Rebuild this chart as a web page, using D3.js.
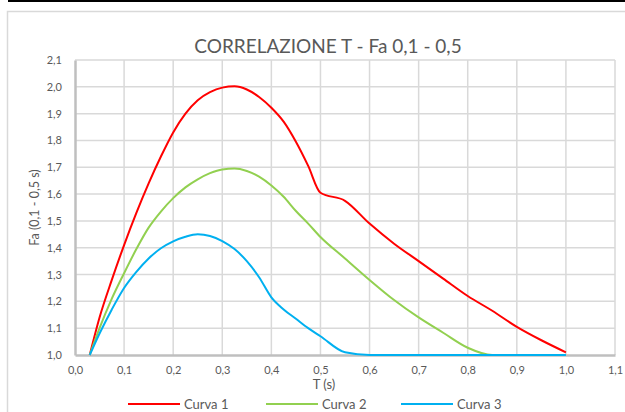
<!DOCTYPE html>
<meta charset="utf-8">
<title>Correlazione T - Fa</title>
<style>
body { margin: 0; background: #fff; }
text { font-family: Lato, "Open Sans", sans-serif; fill: #595959; }
</style>
<script src="https://d3js.org/d3.v7.min.js"></script>
<div id="chart"></div>
<script>

// periods (s) and the three curves
var tValues = [0.03, 0.05, 0.075, 0.10, 0.125, 0.15, 0.175, 0.20, 0.225, 0.25, 0.275, 0.30, 0.325, 0.35,
  0.375, 0.40, 0.425, 0.45, 0.475, 0.50, 0.55, 0.60, 0.65, 0.70, 0.75, 0.80, 0.85, 0.90, 0.95, 1.00];
var curva1 = [1.00, 1.14, 1.28, 1.41, 1.53, 1.64, 1.74, 1.83, 1.90, 1.95, 1.98, 1.997, 2.002, 1.99,
  1.962, 1.922, 1.87, 1.795, 1.705, 1.605, 1.575, 1.49, 1.415, 1.35, 1.285, 1.22, 1.165, 1.105, 1.055, 1.01];
var curva2 = [1.00, 1.10, 1.21, 1.305, 1.395, 1.475, 1.535, 1.585, 1.625, 1.655, 1.678, 1.692, 1.695, 1.686,
  1.665, 1.632, 1.59, 1.537, 1.49, 1.44, 1.36, 1.28, 1.205, 1.14, 1.083, 1.027, 1.00, 1.00, 1.00, 1.00];
var curva3 = [1.00, 1.08, 1.17, 1.25, 1.31, 1.36, 1.398, 1.424, 1.441, 1.45, 1.444, 1.425, 1.395, 1.35,
  1.29, 1.215, 1.17, 1.135, 1.10, 1.07, 1.01, 1.00, 1.00, 1.00, 1.00, 1.00, 1.00, 1.00, 1.00, 1.00];

var seriesNames = ["Curva 1", "Curva 2", "Curva 3"];
var seriesColors = ["#ff0000", "#92d050", "#00b0f0"];
var xTicks = [0, 0.1, 0.2, 0.3, 0.4, 0.5, 0.6, 0.7, 0.8, 0.9, 1.0, 1.1];
var yTicks = [1.0, 1.1, 1.2, 1.3, 1.4, 1.5, 1.6, 1.7, 1.8, 1.9, 2.0, 2.1];

var W = 625, H = 412;
var margin = {top: 60, right: 10, bottom: 57, left: 75};
var width = W - margin.left - margin.right,
    height = H - margin.top - margin.bottom;

var fmt = function(v) { return d3.format(".1f")(v).replace(".", ","); };

var svg = d3.select("#chart").append("svg")
  .attr("width", W)
  .attr("height", H);

// black rule at the top and the chart frame
svg.append("rect").attr("x", 8).attr("y", 0).attr("width", W - 8).attr("height", 2).attr("fill", "#000");
svg.append("rect")
  .attr("x", 7.5).attr("y", 11.5).attr("width", W).attr("height", H)
  .attr("fill", "none").attr("stroke", "#d9d9d9").attr("stroke-width", 1.5);

var g = svg.append("g").attr("transform", "translate(" + margin.left + "," + margin.top + ")");

var x = d3.scaleLinear().domain([0, 1.1]).range([0, width]);
var y = d3.scaleLinear().domain([1.0, 2.1]).range([height, 0]);

// grid
g.append("g").selectAll("line").data(xTicks.slice(1)).enter().append("line")
  .attr("x1", function(d) { return x(d); }).attr("x2", function(d) { return x(d); })
  .attr("y1", 0).attr("y2", height)
  .attr("stroke", "#d9d9d9").attr("stroke-width", 1.5);
g.append("g").selectAll("line").data(yTicks.slice(1)).enter().append("line")
  .attr("y1", function(d) { return y(d); }).attr("y2", function(d) { return y(d); })
  .attr("x1", 0).attr("x2", width)
  .attr("stroke", "#d9d9d9").attr("stroke-width", 1.5);

// axes
var xAxis = g.append("g").attr("transform", "translate(0," + height + ")")
  .call(d3.axisBottom(x).tickValues(xTicks).tickFormat(fmt).tickSize(0).tickPadding(11));
var yAxis = g.append("g")
  .call(d3.axisLeft(y).tickValues(yTicks).tickFormat(fmt).tickSize(0).tickPadding(13));
[xAxis, yAxis].forEach(function(a) {
  a.select(".domain").attr("stroke", "#bfbfbf").attr("stroke-width", 2.5);
  a.selectAll("text").attr("font-family", "Lato, sans-serif").attr("font-size", 11).attr("fill", "#595959");
});

// curves
var series = [curva1, curva2, curva3];
var line = d3.line()
  .x(function(d, i) { return x(tValues[i]); })
  .y(function(d) { return y(d); })
  .curve(d3.curveMonotoneX);

g.selectAll(".curve").data(series).enter().append("path")
  .attr("class", "curve")
  .attr("d", line)
  .attr("fill", "none")
  .attr("stroke", function(d, i) { return seriesColors[i]; })
  .attr("stroke-width", 2)
  .attr("stroke-linejoin", "round");

// titles
svg.append("text")
  .attr("x", 328).attr("y", 53)
  .attr("text-anchor", "middle")
  .attr("font-size", 19)
  .text("CORRELAZIONE T - Fa 0,1 - 0,5");

svg.append("text")
  .attr("x", 324).attr("y", 389)
  .attr("text-anchor", "middle")
  .attr("font-size", 13)
  .text("T (s)");

svg.append("text")
  .attr("transform", "translate(39," + (margin.top + height / 2) + ") rotate(-90)")
  .attr("text-anchor", "middle")
  .attr("font-size", 12.5)
  .text("Fa (0,1 - 0,5 s)");

// legend
var legendX = [128, 266, 401];
var legend = svg.selectAll(".legend").data(seriesNames).enter().append("g")
  .attr("class", "legend")
  .attr("transform", function(d, i) { return "translate(" + legendX[i] + ",404)"; });
legend.append("line")
  .attr("x1", 0).attr("x2", 52)
  .attr("stroke", function(d, i) { return seriesColors[i]; })
  .attr("stroke-width", 2);
legend.append("text")
  .attr("x", 56).attr("y", 4.5)
  .attr("font-size", 13)
  .text(function(d) { return d; });

</script>
